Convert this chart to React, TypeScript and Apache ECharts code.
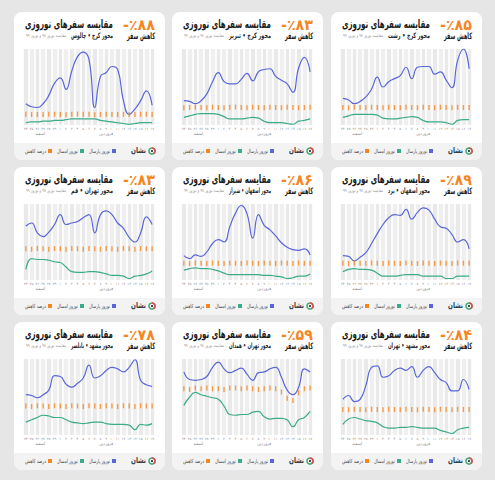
import React, { useEffect, useRef } from "react";
import * as echarts from "echarts";

// ---------- data ----------
const days = ["۲۴", "۲۵", "۲۶", "۲۷", "۲۸", "۲۹", "۱", "۲", "۳", "۴", "۵", "۶", "۷", "۸", "۹", "۱۰", "۱۱", "۱۲", "۱۳", "۱۴", "۱۵", "۱۶", "۱۷"];
const monthNames = ["اسفند", "فروردین"];
const monthDayCounts = [6, 17];
const seriesNames = ["نوروز پارسال", "نوروز امسال", "درصد کاهش"];
const chartTitle = "مقایسه سفرهای نوروزی";
const compareNote = "مقایسه نوروز ۹۸ و نوروز ۹۹";
const dropLabel = "کاهش سفر";
const brandName = "نشان";

const chalusLast = [28, 24, 23, 28, 39, 55, 62, 47, 71, 90, 96, 86, 23, 64, 69, 77, 73, 32, 14, 21, 32, 45, 26];
const chalusNow = [3, 4, 4, 5, 5, 6, 6, 7, 8, 8, 8, 8, 8, 6, 5, 4, 3, 2, 1, 2, 3, 3, 3];
const chalusDrop = [89, 87, 88, 88, 90, 89, 88, 86, 89, 91, 90, 89, 85, 88, 89, 88, 87, 90, 88, 87, 89, 90, 88];

const tabrizLast = [32, 31, 28, 32, 41, 57, 69, 57, 54, 54, 60, 68, 58, 70, 73, 74, 64, 59, 54, 43, 75, 89, 70];
const tabrizNow = [10, 12, 14, 15, 15, 15, 14, 11, 8, 8, 8, 9, 10, 9, 5, 3, 3, 3, 2, 1, 5, 6, 8];
const tabrizDrop = [82, 83, 84, 83, 82, 84, 83, 82, 84, 85, 83, 82, 84, 83, 82, 84, 83, 82, 84, 83, 82, 83, 84];

const rashtLast = [35, 33, 28, 31, 37, 47, 63, 50, 57, 61, 65, 76, 61, 76, 77, 77, 67, 70, 59, 49, 85, 100, 74];
const rashtNow = [10, 12, 14, 14, 14, 14, 13, 9, 8, 8, 9, 10, 11, 10, 6, 4, 4, 4, 3, 1, 6, 7, 7];
const rashtDrop = [85, 84, 86, 85, 84, 86, 85, 84, 86, 85, 84, 86, 85, 84, 86, 85, 84, 86, 85, 84, 86, 85, 85];

const qomLast = [71, 75, 62, 57, 63, 73, 86, 73, 75, 77, 82, 86, 62, 86, 91, 86, 75, 68, 56, 50, 62, 83, 73];
const qomNow = [14, 28, 27, 27, 26, 24, 23, 17, 11, 10, 10, 11, 11, 10, 8, 6, 6, 5, 2, 5, 6, 8, 12];
const qomDrop = [83, 82, 84, 83, 82, 84, 83, 82, 84, 83, 82, 84, 83, 82, 84, 83, 82, 84, 83, 82, 84, 83, 83];

const shirazLast = [32, 28, 33, 31, 37, 48, 53, 50, 70, 88, 98, 87, 55, 86, 72, 66, 58, 49, 43, 40, 39, 41, 33];
const shirazNow = [13, 15, 16, 15, 15, 14, 12, 9, 7, 7, 7, 7, 7, 7, 6, 6, 5, 4, 2, 3, 5, 5, 8];
const shirazDrop = [86, 85, 87, 86, 85, 87, 86, 85, 87, 86, 85, 87, 86, 85, 87, 86, 85, 87, 86, 85, 87, 86, 86];

const yazdLast = [32, 31, 25, 30, 36, 48, 61, 73, 82, 86, 85, 93, 80, 89, 95, 92, 80, 70, 68, 60, 50, 53, 41];
const yazdNow = [11, 14, 15, 14, 14, 13, 9, 5, 5, 5, 6, 7, 7, 7, 5, 5, 5, 5, 2, 2, 5, 5, 5];
const yazdDrop = [89, 88, 90, 89, 88, 90, 89, 88, 90, 89, 88, 90, 89, 88, 90, 89, 88, 90, 89, 88, 90, 89, 89];

const babolsarLast = [53, 52, 49, 53, 59, 78, 77, 67, 63, 68, 75, 92, 75, 78, 85, 89, 87, 83, 89, 99, 72, 66, 64];
const babolsarNow = [17, 20, 23, 26, 25, 23, 23, 20, 17, 16, 15, 16, 17, 17, 15, 14, 14, 14, 13, 7, 14, 13, 15];
const babolsarDrop = [78, 77, 79, 78, 77, 79, 78, 77, 79, 78, 77, 79, 78, 77, 79, 78, 77, 79, 78, 77, 79, 78, 78];

const hamedanLast = [83, 73, 72, 73, 77, 89, 96, 87, 82, 85, 88, 80, 72, 82, 83, 87, 89, 76, 59, 53, 63, 87, 83];
const hamedanNow = [39, 50, 56, 53, 51, 49, 47, 38, 27, 26, 27, 27, 30, 31, 24, 21, 22, 22, 20, 11, 20, 23, 31];
const hamedanDrop = [59, 58, 60, 59, 60, 59, 59, 58, 60, 60, 59, 60, 59, 58, 59, 60, 59, 55, 47, 44, 54, 59, 60];

const mashhadTehranLast = [47, 52, 44, 47, 65, 89, 91, 76, 78, 85, 88, 85, 90, 76, 85, 90, 82, 73, 69, 58, 58, 73, 60];
const mashhadTehranNow = [14, 21, 23, 21, 19, 18, 16, 11, 9, 9, 10, 10, 11, 10, 9, 9, 9, 6, 4, 2, 7, 9, 10];
const mashhadTehranDrop = [84, 83, 85, 84, 83, 85, 84, 83, 85, 84, 83, 85, 84, 83, 85, 84, 83, 85, 84, 83, 85, 84, 84];

const headlineDrops = ["-٪۸۸", "-٪۸۳", "-٪۸۵", "-٪۸۳", "-٪۸۶", "-٪۸۹", "-٪۷۸", "-٪۵۹", "-٪۸۴"];
const routes = [
  "محور کرج • چالوس",
  "محور کرج • تبریز",
  "محور کرج • رشت",
  "محور تهران • قم",
  "محور اصفهان • شیراز",
  "محور اصفهان • یزد",
  "محور مشهد • بابلسر",
  "محور تهران • همدان",
  "محور مشهد • تهران",
];

const panels = [
  { route: routes[0], head: headlineDrops[0], last: chalusLast, now: chalusNow, drop: chalusDrop, dropMax: 630 },
  { route: routes[1], head: headlineDrops[1], last: tabrizLast, now: tabrizNow, drop: tabrizDrop, dropMax: 360 },
  { route: routes[2], head: headlineDrops[2], last: rashtLast, now: rashtNow, drop: rashtDrop, dropMax: 370 },
  { route: routes[3], head: headlineDrops[3], last: qomLast, now: qomNow, drop: qomDrop, dropMax: 202 },
  { route: routes[4], head: headlineDrops[4], last: shirazLast, now: shirazNow, drop: shirazDrop, dropMax: 390 },
  { route: routes[5], head: headlineDrops[5], last: yazdLast, now: yazdNow, drop: yazdDrop, dropMax: 405 },
  { route: routes[6], head: headlineDrops[6], last: babolsarLast, now: babolsarNow, drop: babolsarDrop, dropMax: 205 },
  { route: routes[7], head: headlineDrops[7], last: hamedanLast, now: hamedanNow, drop: hamedanDrop, dropMax: 97 },
  { route: routes[8], head: headlineDrops[8], last: mashhadTehranLast, now: mashhadTehranNow, drop: mashhadTehranDrop, dropMax: 250 },
];

// ---------- styles ----------
const FONT_NAME = "DejaVu Sans";
const FONT = "'DejaVu Sans', sans-serif";
const BLUE = "#5a66d8";
const GREEN = "#3cab89";
const ORANGE = "#f5861f";
const CARD_W = 151;
const CARD_H = 148;
const COLS = [14, 172, 331];
const ROWS = [12, 167, 322];
const GRID = { left: 9, right: 10, top: 37, bottom: 35 };

let measureCtx: CanvasRenderingContext2D | null = null;
function textWidth(text: string, size: number, bold: boolean) {
  if (!measureCtx) measureCtx = document.createElement("canvas").getContext("2d");
  measureCtx!.font = `${bold ? "bold " : ""}${size}px '${FONT_NAME}'`;
  return measureCtx!.measureText(text).width;
}

// Text drawn centred (direction independent), horizontally squeezed to a target width.
function boxText(
  edge: number,
  side: "right" | "left" | "center",
  y: number,
  text: string,
  targetW: number,
  size: number,
  color: string,
  bold: boolean
) {
  const w0 = textWidth(text, size, bold);
  const sx = Math.min(1, targetW / w0);
  const w = w0 * sx;
  const cx = side === "right" ? edge - w / 2 : side === "left" ? edge + w / 2 : edge;
  return {
    type: "text",
    x: cx,
    y,
    scaleX: sx,
    silent: true,
    z: 10,
    style: {
      text,
      fill: color,
      fontSize: size,
      fontWeight: bold ? "bold" : "normal",
      fontFamily: FONT,
      align: "center",
      textAlign: "center",
      verticalAlign: "middle",
      textVerticalAlign: "middle",
    },
  };
}

function legendItems() {
  const items = [
    { name: seriesNames[0], color: BLUE, sq: 100 },
    { name: seriesNames[1], color: GREEN, sq: 68 },
    { name: seriesNames[2], color: ORANGE, sq: 36 },
  ];
  const out: any[] = [];
  items.forEach((it) => {
    out.push({
      type: "rect",
      silent: true,
      z: 10,
      shape: { x: it.sq - 2, y: 137, width: 4, height: 4 },
      style: { fill: it.color },
    });
    out.push(boxText(it.sq - 4, "right", 139, it.name, 21, 5.5, "#4a4a4a", false));
  });
  return out;
}

function buildOption(p: any) {
  const gridW = CARD_W - GRID.left - GRID.right;
  const total = monthDayCounts[0] + monthDayCounts[1];
  const esfandX = GRID.left + (gridW * (monthDayCounts[0] / 2)) / total;
  const farvX = GRID.left + (gridW * (monthDayCounts[0] + monthDayCounts[1] / 2)) / total;
  return {
    animation: false,
    textStyle: { fontFamily: FONT },
    grid: { ...GRID, containLabel: false },
    xAxis: {
      type: "category",
      data: days,
      boundaryGap: true,
      axisLine: { show: false },
      axisTick: { show: false },
      axisLabel: { fontSize: 3.5, color: "#8a8a8a", interval: 0, margin: 2 },
      splitArea: { show: true, interval: 0, areaStyle: { color: ["#e9e9e9", "#efefef"] } },
      splitLine: { show: true, interval: 0, lineStyle: { color: "#ffffff", width: 1.6 } },
    },
    yAxis: [
      { type: "value", min: 0, max: 100, show: false },
      { type: "value", min: 0, max: p.dropMax, show: false },
    ],
    series: [
      {
        name: seriesNames[0],
        type: "line",
        data: p.last,
        smooth: 0.5,
        symbol: "none",
        lineStyle: { color: BLUE, width: 1.2 },
        itemStyle: { color: BLUE },
        z: 3,
      },
      {
        name: seriesNames[1],
        type: "line",
        data: p.now,
        smooth: 0.5,
        symbol: "none",
        lineStyle: { color: GREEN, width: 1.2 },
        itemStyle: { color: GREEN },
        z: 3,
      },
      {
        name: seriesNames[2],
        type: "scatter",
        yAxisIndex: 1,
        data: p.drop,
        symbol: "rect",
        symbolSize: [1.4, 5],
        itemStyle: { color: ORANGE },
        z: 4,
      },
    ],
    graphic: [
      { type: "rect", silent: true, z: -1, shape: { x: 0, y: 131, width: CARD_W, height: CARD_H - 131 }, style: { fill: "#f3f3f3" } },
      boxText(99, "right", 12, chartTitle, 88, 11.5, "#1a1a1a", true),
      boxText(141, "right", 12.5, "\u200E" + p.head, 32, 15, ORANGE, true),
      boxText(141, "right", 23.5, dropLabel, 28, 9, "#1a1a1a", true),
      boxText(99, "right", 23, p.route, 42, 7.5, "#2a2a2a", true),
      boxText(12, "left", 23, compareNote, 40, 4.6, "#9a9a9a", false),
      boxText(esfandX, "center", 121, monthNames[0], 10, 4.4, "#8a8a8a", false),
      boxText(farvX, "center", 121, monthNames[1], 14, 4.4, "#8a8a8a", false),
      boxText(132, "right", 138.5, brandName, 15, 8, "#2b3a4a", true),
      { type: "ring", silent: true, z: 10, shape: { cx: 138, cy: 139, r: 3.8, r0: 2.3 }, style: { fill: "#3aa86b" } },
      { type: "sector", silent: true, z: 11, shape: { cx: 138, cy: 139, r: 3.8, r0: 2.3, startAngle: -Math.PI / 2, endAngle: Math.PI / 3 }, style: { fill: "#e24b4b" } },
      { type: "circle", silent: true, z: 11, shape: { cx: 138, cy: 139, r: 1.1 }, style: { fill: "#2b3a4a" } },
      ...legendItems(),
    ],
  };
}

function Card({ panel, left, top }: { panel: any; left: number; top: number }) {
  const ref = useRef<HTMLDivElement>(null);
  useEffect(() => {
    const chart = echarts.init(ref.current!, undefined, { renderer: "svg" });
    chart.setOption(buildOption(panel) as any);
    return () => chart.dispose();
  }, [panel]);
  return (
    <div
      style={{
        position: "absolute",
        left,
        top,
        width: CARD_W,
        height: CARD_H,
        background: "#ffffff",
        borderRadius: 8,
        overflow: "hidden",
      }}
    >
      <div ref={ref} style={{ width: CARD_W, height: CARD_H }} />
    </div>
  );
}

export default function App() {
  return (
    <div style={{ position: "fixed", left: 0, top: 0, width: 495, height: 480, background: "#e6e6e6", overflow: "hidden" }}>
      {panels.map((p, i) => (
        <Card key={i} panel={p} left={COLS[i % 3]} top={ROWS[Math.floor(i / 3)]} />
      ))}
    </div>
  );
}
